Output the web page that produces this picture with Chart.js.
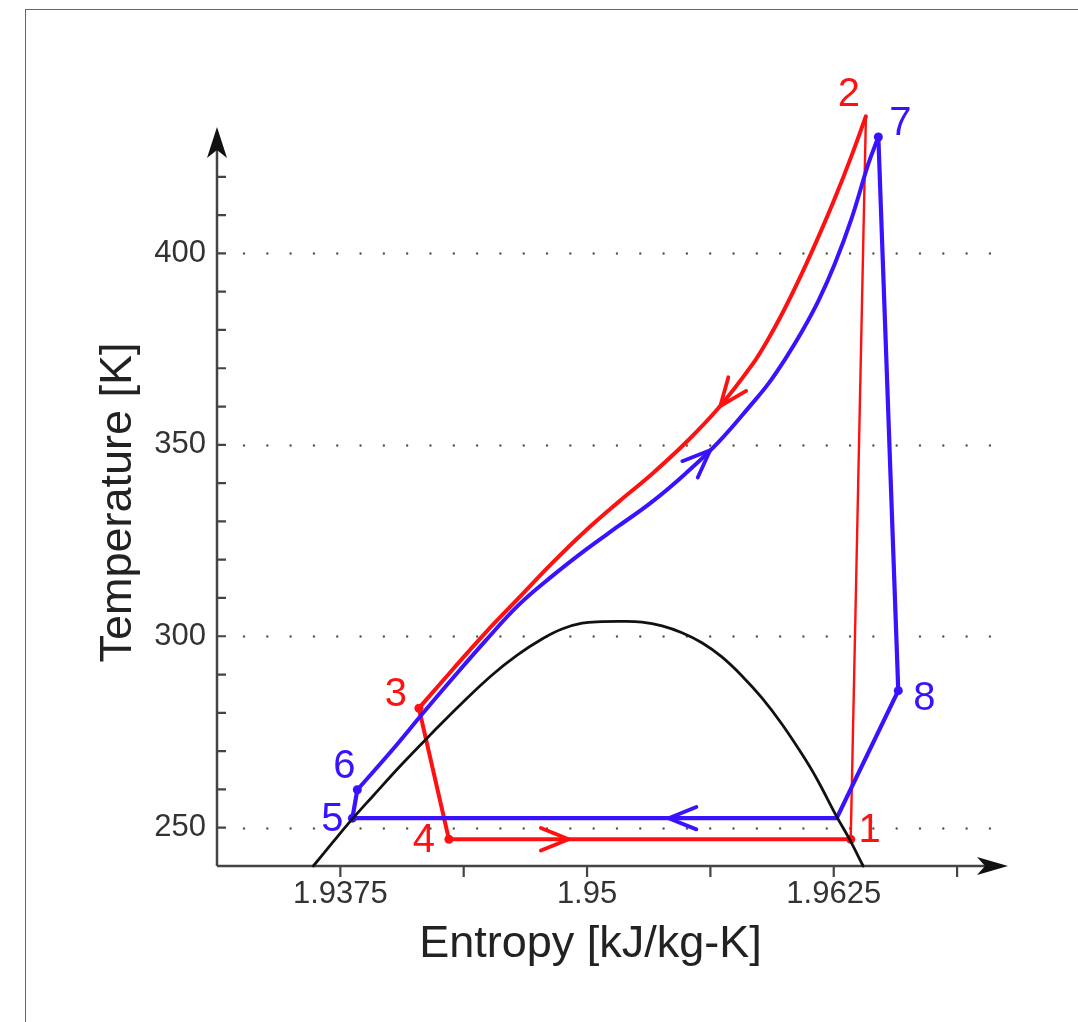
<!DOCTYPE html>
<html>
<head>
<meta charset="utf-8">
<script src="https://cdn.jsdelivr.net/npm/chart.js@4/dist/chart.umd.min.js"></script>
<style>
html,body{margin:0;padding:0;background:#fff;}
#wrap{position:relative;width:1078px;height:1022px;overflow:hidden;background:#fff;}
canvas{position:absolute;left:0;top:0;}
#frame{position:absolute;left:25px;top:9px;right:-10px;bottom:-10px;border-left:1.5px solid #666;border-top:1.5px solid #666;pointer-events:none;}
</style>
</head>
<body>
<div id="wrap"><canvas id="c" width="1078" height="1022"></canvas><div id="frame"></div></div>
<script>
// ---------------- data ----------------
const xRange = [1.93125, 1.9691];
const yRange = [240, 429.87];
const xTickValues = [1.9375, 1.95, 1.9625];
const xTickLabels = ['1.9375', '1.95', '1.9625'];
const xTickMarks = [1.9375, 1.94375, 1.95, 1.95625, 1.9625, 1.96875];
const yTickValues = [250, 300, 350, 400];
const yTickLabels = ['250', '300', '350', '400'];
const yTickMarks = [250, 260, 270, 280, 290, 300, 310, 320, 330, 340, 350, 360, 370, 380, 390, 400, 410, 420];
const gridT = [250, 300, 350, 400];

// saturation dome
const domeS = [1.93613, 1.93710, 1.93811, 1.93912, 1.94064, 1.94216, 1.94367, 1.94519, 1.94646, 1.94772, 1.94873, 1.94975, 1.95076, 1.95177, 1.95278, 1.95380, 1.95481, 1.95582, 1.95683, 1.95784, 1.95886, 1.95987, 1.96088, 1.96164, 1.96265, 1.96331, 1.96399];
const domeT = [240.0, 246.1, 252.3, 258.1, 266.7, 274.8, 282.6, 289.9, 295.1, 299.3, 301.9, 303.4, 303.8, 303.9, 303.7, 302.7, 300.9, 298.3, 294.6, 289.7, 283.9, 277.1, 269.3, 262.8, 252.9, 246.9, 240.0];

// red cycle (1-2-3-4)
const redCompS = [1.96336, 1.96413];
const redCompT = [247.0, 435.8];
const redCurveS = [1.96413, 1.96341, 1.96255, 1.96174, 1.96088, 1.96002, 1.95921, 1.95835, 1.95666, 1.95497, 1.95329, 1.95160, 1.94991, 1.94823, 1.94654, 1.94485, 1.94317, 1.94148];
const redCurveT = [435.8, 425.6, 414.3, 404.5, 394.7, 385.6, 377.9, 370.8, 359.6, 350.4, 342.4, 335.1, 327.5, 319.1, 310.0, 300.9, 291.2, 281.2];
const redLowS = [1.94148, 1.94300, 1.96336];
const redLowT = [281.2, 247.0, 247.0];
const redPtS = [1.96336, 1.96413, 1.94148, 1.94300];
const redPtT = [247.0, 435.8, 281.2, 247.0];
const redPtLabels = ['1', '2', '3', '4'];

// blue cycle (5-6-7-8)
const blueCurveS = [1.93836, 1.94013, 1.94165, 1.94317, 1.94485, 1.94654, 1.94823, 1.94991, 1.95160, 1.95329, 1.95497, 1.95666, 1.95835, 1.95921, 1.96004, 1.96088, 1.96174, 1.96255, 1.96341, 1.96426, 1.96476];
const blueCurveT = [259.9, 270.3, 279.7, 288.9, 298.8, 308.2, 315.7, 322.5, 328.8, 335.1, 342.4, 350.7, 360.7, 366.1, 372.4, 379.5, 387.8, 397.2, 409.2, 423.5, 430.4];
const blueRestS = [1.96476, 1.96577, 1.96265, 1.93811, 1.93836];
const blueRestT = [430.4, 285.8, 252.5, 252.5, 259.9];
const bluePtS = [1.93811, 1.93836, 1.96476, 1.96577];
const bluePtT = [252.5, 259.9, 430.4, 285.8];
const bluePtLabels = ['5', '6', '7', '8'];

// direction arrows (tip, and a point upstream on the same path)
const redArrowTipS = [1.95675, 1.94907];
const redArrowTipT = [360.1, 247.0];
const redArrowFromS = [1.95835, 1.94300];
const redArrowFromT = [370.8, 247.0];
const blueArrowTipS = [1.95624, 1.95413];
const blueArrowTipT = [348.6, 252.5];
const blueArrowFromS = [1.95497, 1.96265];
const blueArrowFromT = [342.4, 252.5];

// ---------------- style ----------------
const RED = '#ff1111';
const BLUE = '#3a12ff';
const FONT = '"Liberation Sans", Arial, Helvetica, sans-serif';
const labelOffsets = {'1':[19,-8],'2':[-17,-21],'3':[-23,-13],'4':[-25,2],'5':[-20,2],'6':[-13,-23],'7':[22,-13],'8':[26,8]};
const X_OVERHANG = 44;   // x-axis arrow tip beyond the plot's right edge
const Y_OVERHANG = 12;   // y-axis arrow tip above the plot's top edge

const pts = (s, t) => s.map((v, i) => ({x: v, y: t[i]}));

const decorBelow = {
  id: 'decorBelow',
  beforeDatasetsDraw(chart) {
    const {ctx, chartArea: a, scales: {x, y}} = chart;
    const xr = a.right + X_OVERHANG, yt = a.top - Y_OVERHANG;
    ctx.save();
    // dotted grid lines
    ctx.strokeStyle = '#555';
    ctx.lineWidth = 2.4;
    ctx.lineCap = 'round';
    ctx.setLineDash([0.01, 23.3]);
    gridT.forEach(v => {
      const py = Math.round(y.getPixelForValue(v)) + 0.5;
      ctx.beginPath();
      ctx.moveTo(a.left + 27, py);
      ctx.lineTo(xr - 6, py);
      ctx.stroke();
    });
    ctx.setLineDash([]);
    ctx.lineCap = 'butt';
    // axis lines
    ctx.strokeStyle = '#444';
    ctx.lineWidth = 2.5;
    ctx.beginPath();
    ctx.moveTo(a.left, a.bottom);
    ctx.lineTo(xr - 20, a.bottom);
    ctx.moveTo(a.left, a.bottom);
    ctx.lineTo(a.left, yt + 20);
    ctx.stroke();
    // tick marks
    ctx.lineWidth = 2.2;
    ctx.beginPath();
    xTickMarks.forEach(v => {
      const px = x.getPixelForValue(v);
      ctx.moveTo(px, a.bottom);
      ctx.lineTo(px, a.bottom + 11);
    });
    yTickMarks.forEach(v => {
      const py = y.getPixelForValue(v);
      ctx.moveTo(a.left, py);
      ctx.lineTo(a.left + 9, py);
    });
    ctx.stroke();
    // arrow heads
    ctx.fillStyle = '#111';
    ctx.beginPath();
    ctx.moveTo(xr, a.bottom);
    ctx.lineTo(xr - 31, a.bottom - 9);
    ctx.lineTo(xr - 23, a.bottom);
    ctx.lineTo(xr - 31, a.bottom + 9);
    ctx.closePath();
    ctx.fill();
    ctx.beginPath();
    ctx.moveTo(a.left, yt);
    ctx.lineTo(a.left - 10, yt + 31);
    ctx.lineTo(a.left, yt + 23);
    ctx.lineTo(a.left + 10, yt + 31);
    ctx.closePath();
    ctx.fill();
    ctx.restore();
  }
};

const decorAbove = {
  id: 'decorAbove',
  afterDatasetsDraw(chart) {
    const {ctx, scales: {x, y}} = chart;
    ctx.save();
    const L = 30, A = 22 * Math.PI / 180;
    const chevron = (ts, tt, fs, ft, color) => {
      const px = x.getPixelForValue(ts), py = y.getPixelForValue(tt);
      const fx = x.getPixelForValue(fs), fy = y.getPixelForValue(ft);
      const ang = Math.atan2(fy - py, fx - px);
      ctx.strokeStyle = color;
      ctx.lineWidth = 3.8;
      ctx.lineCap = 'round';
      ctx.lineJoin = 'round';
      ctx.beginPath();
      ctx.moveTo(px + L * Math.cos(ang + A), py + L * Math.sin(ang + A));
      ctx.lineTo(px, py);
      ctx.lineTo(px + L * Math.cos(ang - A), py + L * Math.sin(ang - A));
      ctx.stroke();
    };
    redArrowTipS.forEach((s, i) => chevron(s, redArrowTipT[i], redArrowFromS[i], redArrowFromT[i], RED));
    blueArrowTipS.forEach((s, i) => chevron(s, blueArrowTipT[i], blueArrowFromS[i], blueArrowFromT[i], BLUE));
    // state labels
    ctx.font = '40px ' + FONT;
    ctx.textAlign = 'center';
    ctx.textBaseline = 'middle';
    const lab = (s, t, text, color) => {
      const o = labelOffsets[text];
      ctx.fillStyle = color;
      ctx.fillText(text, x.getPixelForValue(s) + o[0], y.getPixelForValue(t) + o[1]);
    };
    redPtLabels.forEach((t, i) => lab(redPtS[i], redPtT[i], t, RED));
    bluePtLabels.forEach((t, i) => lab(bluePtS[i], bluePtT[i], t, BLUE));
    ctx.restore();
  }
};

const lineDs = (s, t, color, w, extra) => Object.assign({
  data: pts(s, t), showLine: true, borderColor: color, backgroundColor: color,
  borderWidth: w, pointRadius: 0, clip: false, tension: 0,
  borderCapStyle: 'round', borderJoinStyle: 'round'
}, extra || {});

new Chart(document.getElementById('c'), {
  type: 'scatter',
  data: {
    datasets: [
      lineDs(domeS, domeT, '#111', 2.8, {tension: 0.4}),
      lineDs(blueCurveS, blueCurveT, BLUE, 4, {tension: 0.4}),
      lineDs(blueRestS, blueRestT, BLUE, 4.2),
      lineDs(redCurveS, redCurveT, RED, 4, {tension: 0.4}),
      lineDs(redLowS, redLowT, RED, 4),
      lineDs(redCompS, redCompT, RED, 2.4),
      {data: pts(redPtS, redPtT), showLine: false, pointRadius: 4.5, backgroundColor: RED, borderColor: RED, borderWidth: 0, clip: false},
      {data: pts(bluePtS, bluePtT), showLine: false, pointRadius: 4.5, backgroundColor: BLUE, borderColor: BLUE, borderWidth: 0, clip: false}
    ]
  },
  options: {
    responsive: false,
    animation: false,
    events: [],
    layout: {padding: {left: 92, top: 139, right: 114, bottom: 0}},
    plugins: {legend: {display: false}, tooltip: {enabled: false}},
    scales: {
      x: {
        type: 'linear', min: xRange[0], max: xRange[1],
        grid: {display: false, drawTicks: false}, border: {display: false},
        afterBuildTicks: s => { s.ticks = xTickValues.map(v => ({value: v})); },
        afterFit: s => { s.height = 156; },
        ticks: {padding: 10, color: '#333', autoSkip: false, maxRotation: 0,
          font: {family: FONT, size: 31},
          callback: (v, i) => xTickLabels[i]},
        title: {display: true, text: 'Entropy [kJ/kg-K]', color: '#222',
          font: {family: FONT, size: 45}, padding: {top: 0, bottom: 50}}
      },
      y: {
        type: 'linear', min: yRange[0], max: yRange[1],
        grid: {display: false, drawTicks: false}, border: {display: false},
        afterBuildTicks: s => { s.ticks = yTickValues.map(v => ({value: v})); },
        afterFit: s => { s.width = 125; },
        ticks: {padding: 11, color: '#333', autoSkip: false,
          font: {family: FONT, size: 31},
          callback: (v, i) => yTickLabels[i]},
        title: {display: true, text: 'Temperature [K]', color: '#222',
          font: {family: FONT, size: 45}, padding: {top: 0, bottom: 0}}
      }
    }
  },
  plugins: [decorBelow, decorAbove]
});
</script>
</body>
</html>
